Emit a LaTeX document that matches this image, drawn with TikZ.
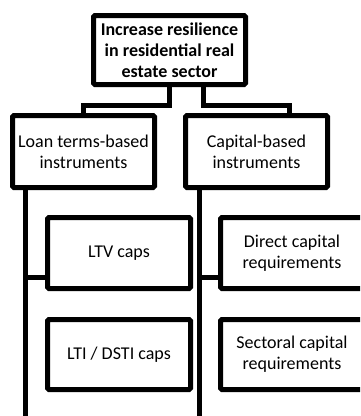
\documentclass[tikz,border=0pt]{standalone}
\usepackage{fontspec}
\setmainfont{Carlito}
\begin{document}
\begin{tikzpicture}[x=1pt,y=-1pt,
  box/.style={draw, line width=5pt, rounded corners=1.5pt, outer sep=0pt, inner sep=0pt,
    align=center, font=\fontsize{18}{21}\selectfont},
  conn/.style={line width=5pt}]
\useasboundingbox (0,0) rectangle (360,416);
\fill[white] (0,0) rectangle (360,416);
\clip (0,0) rectangle (360,416);
\node[box, font=\bfseries\fontsize{18}{21}\selectfont, minimum width=152pt, minimum height=69pt] (top) at (169.5,50) {Increase resilience\\in residential real\\estate sector};
\node[box, minimum width=142pt, minimum height=72pt] (loan) at (83.5,151.5) {Loan terms-based\\instruments};
\node[box, minimum width=142pt, minimum height=72pt] (cap) at (256.5,151.5) {Capital-based\\instruments};
\node[box, minimum width=143pt, minimum height=71pt] (ltv) at (119,253) {LTV caps};
\node[box, minimum width=143pt, minimum height=71pt] (direct) at (292,253) {Direct capital\\requirements};
\node[box, minimum width=143pt, minimum height=70pt] (lti) at (119,354.5) {LTI / DSTI caps};
\node[box, minimum width=143pt, minimum height=70pt] (sect) at (292,354.5) {Sectoral capital\\requirements};
% connectors from the top box
\draw[conn] (top.south) -- ++(0,21) -| (loan.north);
\draw[conn] ([xshift=34pt]top.south) -- ++(0,21) -| ([xshift=32.5pt]cap.north);
% left column
\path ([xshift=13pt]loan.south west) ++(0,250) coordinate (lend);
\draw[conn] ([xshift=13pt]loan.south west) |- ([yshift=11pt]ltv.south west);
\draw[conn] ([xshift=13pt]loan.south west) -- (lend);
% right column
\path ([xshift=14pt]cap.south west) ++(0,250) coordinate (rend);
\draw[conn] ([xshift=14pt]cap.south west) |- ([yshift=11pt]direct.south west);
\draw[conn] ([xshift=14pt]cap.south west) -- (rend);
\end{tikzpicture}
\end{document}
